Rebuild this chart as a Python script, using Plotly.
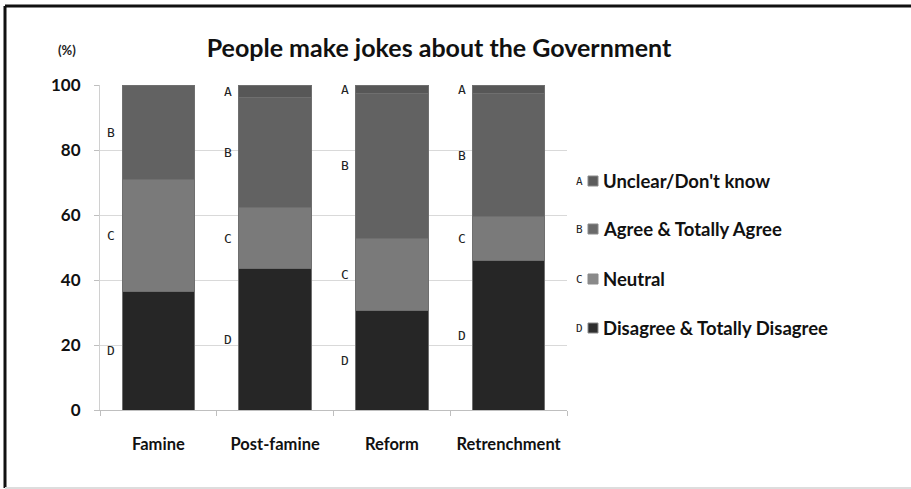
import plotly.graph_objects as go

categories = ["Famine", "Post-famine", "Reform", "Retrenchment"]
disagree = [36.6, 43.6, 30.5, 46.1]
neutral = [34.2, 18.6, 22.3, 13.4]
agree = [29.2, 34.0, 44.6, 37.9]
unclear = [0.0, 3.8, 2.6, 2.6]

series_names = ["Disagree & Totally Disagree", "Neutral", "Agree & Totally Agree", "Unclear/Don't know"]
series_letters = ["D", "C", "B", "A"]
series_values = [disagree, neutral, agree, unclear]
series_colors = ["#262626", "#7a7a7a", "#626262", "#575757"]
legend_colors = ["#2e2e2e", "#8a8a8a", "#6a6a6a", "#5c5c5c"]

W, H = 911, 489
ML, MR, MT, MB = 100, 344, 85, 79
PW, PH = W - ML - MR, H - MT - MB


def px2x(px):
    return (px - ML) / PW


def py2y(py):
    return (H - MB - py) / PH


fig = go.Figure()
for name, vals, col in zip(series_names, series_values, series_colors):
    fig.add_trace(go.Bar(
        x=categories, y=vals, name=name, showlegend=False,
        marker=dict(color=col, line=dict(color="#6f6f6f", width=1)),
    ))

ann = []
# letter labels beside each segment (at segment midpoints)
for i, cat in enumerate(categories):
    base = 0.0
    for letter, vals in zip(series_letters, series_values):
        v = vals[i]
        if v > 0:
            ann.append(dict(x=cat, y=base + v / 2, xref="x", yref="y", text=letter,
                            showarrow=False, xanchor="right", yanchor="middle", xshift=-41,
                            font=dict(family="DejaVu Sans Mono", size=13, color="#222")))
        base += v

# manual legend (A at top, D at bottom)
shapes = []
legend_rows = [181, 229, 279, 328]
order = [3, 2, 1, 0]
for row_py, k in zip(legend_rows, order):
    shapes.append(dict(type="rect", xref="paper", yref="paper",
                       x0=px2x(588), x1=px2x(598), y0=py2y(row_py + 5), y1=py2y(row_py - 5),
                       fillcolor=legend_colors[k], line=dict(color="#8a8a8a", width=1)))
    ann.append(dict(x=px2x(585), y=py2y(row_py), xref="paper", yref="paper",
                    text=series_letters[k], showarrow=False, xanchor="right", yanchor="middle",
                    font=dict(family="DejaVu Sans Mono", size=11, color="#222")))
    ann.append(dict(x=px2x(601), y=py2y(row_py), xref="paper", yref="paper",
                    text=series_names[k], showarrow=False, xanchor="left", yanchor="middle",
                    font=dict(family="Lato", size=18.5, color="#111", weight="bold")))

ann.append(dict(x=px2x(67), y=py2y(50), xref="paper", yref="paper", text="(%)",
                showarrow=False, xanchor="center", yanchor="middle",
                font=dict(family="Lato", size=13, color="#222", weight="bold")))

shapes += [
    dict(type="line", xref="paper", yref="paper", x0=px2x(5), x1=px2x(W), y0=py2y(6), y1=py2y(6),
         line=dict(color="#111", width=3)),
    dict(type="line", xref="paper", yref="paper", x0=px2x(5), x1=px2x(5), y0=py2y(6), y1=py2y(H - 1),
         line=dict(color="#111", width=3)),
    dict(type="line", xref="paper", yref="paper", x0=px2x(5), x1=px2x(W), y0=py2y(H - 1), y1=py2y(H - 1),
         line=dict(color="#dddddd", width=2)),
]

fig.update_layout(
    width=W, height=H,
    margin=dict(l=ML, r=MR, t=MT, b=MB),
    barmode="stack", bargap=0.38,
    showlegend=False,
    paper_bgcolor="white", plot_bgcolor="white",
    title=dict(text="People make jokes about the Government", x=439 / W, xref="container",
               y=1 - 48 / H, yref="container", xanchor="center", yanchor="middle",
               font=dict(family="Lato", size=25, color="#111", weight="bold")),
    annotations=ann,
    shapes=shapes,
    font=dict(family="Lato", color="#111"),
)
fig.update_xaxes(showgrid=False, showline=True, linecolor="#bfbfbf", linewidth=1,
                 ticks="outside", ticklen=5, tickcolor="#bfbfbf", tickson="boundaries",
                 ticklabelstandoff=19, tickangle=0, automargin=False,
                 tickfont=dict(family="Lato", size=16.5, color="#111", weight="bold"))
fig.update_yaxes(range=[0, 100], dtick=20, showgrid=True, gridcolor="#d9d9d9", gridwidth=1,
                 showline=True, linecolor="#d0d0d0", linewidth=1, zeroline=False,
                 ticks="outside", ticklen=5, tickcolor="#bfbfbf", ticklabelstandoff=10,
                 automargin=False,
                 tickfont=dict(family="Lato", size=17, color="#111", weight="bold"))

fig.write_html("out.html")
